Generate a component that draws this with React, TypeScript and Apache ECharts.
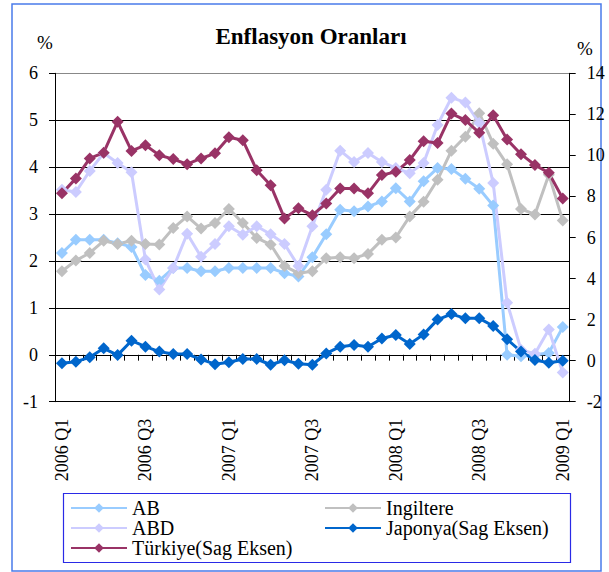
import React, { useEffect, useRef } from "react";
import * as echarts from "echarts";

const months = [
  "2006-03", "2006-04", "2006-05", "2006-06", "2006-07", "2006-08", "2006-09", "2006-10", "2006-11", "2006-12",
  "2007-01", "2007-02", "2007-03", "2007-04", "2007-05", "2007-06", "2007-07", "2007-08", "2007-09", "2007-10",
  "2007-11", "2007-12", "2008-01", "2008-02", "2008-03", "2008-04", "2008-05", "2008-06", "2008-07", "2008-08",
  "2008-09", "2008-10", "2008-11", "2008-12", "2009-01", "2009-02", "2009-03",
];
const xTickLabels = ["2006 Q1", "2006 Q3", "2007 Q1", "2007 Q3", "2008 Q1", "2008 Q3", "2009 Q1"];

const AB = [2.17, 2.45, 2.45, 2.45, 2.38, 2.3, 1.7, 1.58, 1.85, 1.85, 1.78, 1.78, 1.85, 1.85, 1.85, 1.85, 1.74, 1.67, 2.08, 2.57, 3.09, 3.06, 3.16, 3.27, 3.55, 3.27, 3.7, 3.98, 3.96, 3.75, 3.54, 3.18, 0.0, -0.03, 0.0, 0.04, 0.59];
const ABD = [3.52, 3.47, 3.92, 4.3, 4.09, 3.89, 2.03, 1.39, 1.85, 2.58, 2.09, 2.36, 2.74, 2.56, 2.74, 2.57, 2.36, 1.89, 2.74, 3.52, 4.35, 4.11, 4.3, 4.11, 3.98, 3.87, 4.09, 4.9, 5.48, 5.38, 4.94, 3.66, 1.11, 0.11, 0.02, 0.54, -0.38];
const Ingiltere = [1.78, 2.01, 2.17, 2.43, 2.36, 2.43, 2.36, 2.35, 2.7, 2.95, 2.69, 2.81, 3.11, 2.81, 2.49, 2.35, 1.89, 1.74, 1.78, 2.06, 2.08, 2.06, 2.15, 2.45, 2.5, 2.95, 3.26, 3.73, 4.35, 4.65, 5.15, 4.5, 4.06, 3.11, 2.99, 3.84, 2.86];
const Japonya = [-0.13, -0.05, 0.16, 0.6, 0.27, 0.97, 0.68, 0.44, 0.32, 0.32, 0.06, -0.17, -0.08, 0.08, 0.08, -0.2, 0.02, -0.15, -0.2, 0.35, 0.68, 0.76, 0.68, 1.08, 1.25, 0.81, 1.28, 2.0, 2.27, 2.06, 2.06, 1.69, 1.04, 0.44, 0.03, -0.1, 0.0];
const Turkiye = [8.15, 8.88, 9.85, 10.13, 11.64, 10.22, 10.5, 10.01, 9.82, 9.57, 9.85, 10.1, 10.88, 10.74, 9.28, 8.55, 6.93, 7.42, 7.09, 7.66, 8.39, 8.39, 8.15, 9.04, 9.2, 9.77, 10.69, 10.6, 12.04, 11.72, 11.1, 11.96, 10.77, 10.06, 9.53, 9.15, 7.9];

const FONT = "'Liberation Serif', 'Times New Roman', serif";

export default function App() {
  const ref = useRef<HTMLDivElement>(null);
  useEffect(() => {
    const chart = echarts.init(ref.current as HTMLDivElement, null, { renderer: "svg" });
    const mk = (name: string, data: number[], color: string, yAxisIndex: number) => ({
      name,
      type: "line",
      data,
      yAxisIndex,
      symbol: "diamond",
      symbolSize: 12,
      color,
      lineStyle: { color, width: 3 },
      itemStyle: { color },
      emphasis: { disabled: true },
    });
    const legendBase = {
      orient: "vertical",
      top: 498,
      itemWidth: 56,
      itemHeight: 12,
      itemGap: 0,
      padding: 0,
      selectedMode: false,
      textStyle: { fontFamily: FONT, fontSize: 20, lineHeight: 20, color: "#000" },
    };
    chart.setOption({
      animation: false,
      backgroundColor: "#fff",
      textStyle: { fontFamily: FONT },
      grid: { left: 55, right: 39.3, top: 73.3, bottom: 170.3, containLabel: false },
      xAxis: [
        {
          type: "category",
          data: months,
          boundaryGap: true,
          axisLine: { show: true, lineStyle: { color: "#000", width: 1 } },
          axisTick: { show: true, inside: false, length: 5, interval: 0, lineStyle: { color: "#000" } },
          axisLabel: {
            interval: 0,
            rotate: 90,
            margin: 17,
            fontFamily: FONT,
            fontSize: 18,
            color: "#000",
            formatter: (_v: string, i: number) => (i % 6 === 0 ? xTickLabels[i / 6] : ""),
          },
          splitLine: { show: false },
        },
        {
          type: "category",
          data: months,
          position: "bottom",
          boundaryGap: true,
          axisLine: { show: false },
          axisTick: { show: true, inside: true, length: 4, interval: 0, lineStyle: { color: "#000" } },
          axisLabel: { show: false },
          splitLine: { show: false },
        },
      ],
      yAxis: [
        {
          type: "value",
          min: -1,
          max: 6,
          interval: 1,
          position: "left",
          axisLine: { show: true, lineStyle: { color: "#000", width: 1 } },
          axisTick: { show: true, length: 6, lineStyle: { color: "#000" } },
          axisLabel: { margin: 17, fontFamily: FONT, fontSize: 18, color: "#000" },
          splitLine: {
            show: true,
            lineStyle: { color: ["#000", "#000", "#000", "#000", "#000", "#000", "#000", "#888"], width: 1 },
          },
        },
        {
          type: "value",
          min: -2,
          max: 14,
          interval: 2,
          position: "right",
          axisLine: { show: true, lineStyle: { color: "#000", width: 1 } },
          axisTick: { show: true, length: 6, lineStyle: { color: "#000" } },
          axisLabel: { margin: 17, fontFamily: FONT, fontSize: 18, color: "#000" },
          splitLine: { show: false },
        },
      ],
      legend: [
        { ...legendBase, left: 70, data: ["AB", "ABD", "Türkiye(Sag Eksen)"] },
        { ...legendBase, left: 324, data: ["Ingiltere", "Japonya(Sag Eksen)"] },
      ],
      series: [
        mk("AB", AB, "#99CCFF", 0),
        mk("Ingiltere", Ingiltere, "#C0C0C0", 0),
        mk("ABD", ABD, "#CCCCFF", 0),
        mk("Japonya(Sag Eksen)", Japonya, "#0066CC", 1),
        mk("Türkiye(Sag Eksen)", Turkiye, "#993366", 1),
      ],
      graphic: [
        {
          type: "rect",
          shape: { x: 12, y: 4, width: 589, height: 567 },
          style: { fill: "none", stroke: "#4A7BEA", lineWidth: 1.5 },
          silent: true,
        },
        {
          type: "rect",
          shape: { x: 63.5, y: 493.5, width: 507, height: 69 },
          style: { fill: "none", stroke: "#2A2AE6", lineWidth: 1.2 },
          silent: true,
        },
        {
          type: "text",
          x: 311,
          y: 36,
          style: {
            text: "Enflasyon Oranları",
            fontFamily: FONT,
            fontSize: 23,
            fontWeight: "bold",
            textAlign: "center",
            textVerticalAlign: "middle",
            fill: "#000",
          },
        },
        {
          type: "text",
          x: 45,
          y: 42,
          style: {
            text: "%",
            fontFamily: FONT,
            fontSize: 19,
            textAlign: "center",
            textVerticalAlign: "middle",
            fill: "#000",
          },
        },
        {
          type: "text",
          x: 585,
          y: 48,
          style: {
            text: "%",
            fontFamily: FONT,
            fontSize: 19,
            textAlign: "center",
            textVerticalAlign: "middle",
            fill: "#000",
          },
        },
      ],
    });
    return () => chart.dispose();
  }, []);
  return (
    <div
      ref={ref}
      style={{ position: "absolute", left: 0, top: 0, width: 609, height: 572, background: "#fff" }}
    />
  );
}
